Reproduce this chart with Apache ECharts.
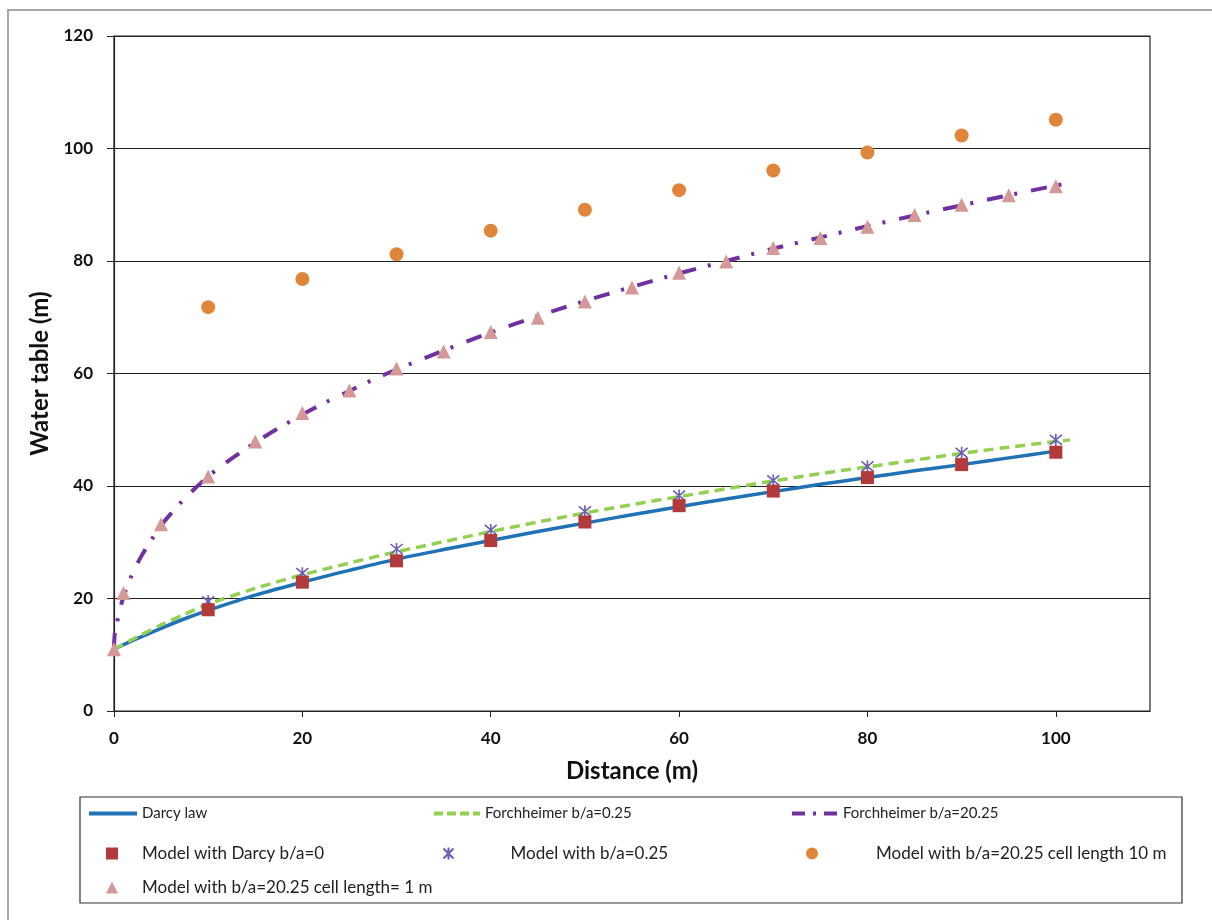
<!DOCTYPE html>
<html>
<head>
<meta charset="utf-8">
<script src="https://cdn.jsdelivr.net/npm/echarts@6/dist/echarts.min.js"></script>
<style>
  html, body { margin: 0; padding: 0; background: #fff; }
  #chart { width: 1212px; height: 920px; }
</style>
</head>
<body>
<div id="chart"></div>
<script>
// x tick labels shown on the distance axis
const xTicks = [0, 20, 40, 60, 80, 100];

// analytic curves, [distance, water table]
const darcyLaw = [
  [0, 11], [2.5, 12.9], [5, 14.7], [7.5, 16.4], [10, 17.9], [15, 20.6], [20, 22.9],
  [25, 25], [30, 27], [35, 28.7], [40, 30.3], [45, 31.9], [50, 33.4], [55, 34.9],
  [60, 36.3], [65, 37.7], [70, 39], [75, 40.3], [80, 41.5], [85, 42.7], [90, 43.8],
  [95, 45], [100, 46.2]
];
const forch025 = [
  [0, 11], [2.5, 13.2], [5, 15.3], [7.5, 17.2], [10, 19], [15, 21.8], [20, 24.2],
  [25, 26.3], [30, 28.3], [35, 30.1], [40, 31.9], [45, 33.6], [50, 35.2], [55, 36.7],
  [60, 38.1], [65, 39.5], [70, 40.9], [75, 42.2], [80, 43.4], [85, 44.6], [90, 45.8],
  [95, 46.9], [100, 47.9], [101.5, 48.2]
];
const forch2025 = [
  [0, 11], [0.1, 14], [0.5, 17], [1, 20.3], [2, 24.6], [3, 27.8], [4, 30.5], [5, 33],
  [6, 35], [7, 36.9], [8, 38.6], [9, 40.2], [10, 41.7], [12, 44.3], [14, 46.6],
  [16, 48.8], [18, 50.8], [20, 52.7], [22.5, 54.9], [25, 56.9], [27.5, 58.9], [30, 60.7],
  [35, 64.1], [40, 67.3], [45, 70.2], [50, 72.9], [55, 75.4], [60, 77.8], [65, 80],
  [70, 82.2], [75, 84.2], [80, 86.2], [85, 88.1], [90, 89.9], [95, 91.7], [100, 93.4],
  [102, 94]
];

// model results
const modelX = [10, 20, 30, 40, 50, 60, 70, 80, 90, 100];
const modelDarcy = [18, 22.9, 26.7, 30.3, 33.6, 36.5, 39.1, 41.5, 43.8, 46];
const model025 = [19.5, 24.5, 28.8, 32.2, 35.5, 38.3, 41, 43.5, 45.9, 48.2];
const model10m = [71.8, 76.8, 81.2, 85.4, 89.1, 92.6, 96.1, 99.3, 102.3, 105.1];
const cell1mX = [0, 1, 5, 10, 15, 20, 25, 30, 35, 40, 45, 50, 55, 60, 65, 70, 75, 80, 85, 90, 95, 100];
const model1m = [11, 21, 33.2, 41.7, 47.9, 53, 57, 60.9, 63.9, 67.4, 69.9, 72.8, 75.3, 77.9,
  79.9, 82.3, 84.1, 86.1, 88.2, 90, 91.7, 93.3];

const names = [
  "Darcy law",
  "Forchheimer b/a=0.25",
  "Forchheimer b/a=20.25",
  "Model with Darcy b/a=0",
  "Model with b/a=0.25",
  "Model with b/a=20.25 cell length 10 m",
  "Model with b/a=20.25 cell length= 1 m"
];

const FONT = "Lato";
const starPath = "path://M0,0L10,10M10,0L0,10M5,-1L5,11";

function pairs(xs, ys) {
  return xs.map((x, i) => [x, ys[i]]);
}

function legendAt(name, left, top, w, h, pad, size, dash) {
  const lg = {
    data: [name],
    left: left,
    top: top,
    itemWidth: w,
    itemHeight: h,
    padding: 0,
    selectedMode: false,
    textStyle: {
      fontFamily: FONT,
      fontSize: size,
      color: "#222",
      padding: [0, 0, 0, pad]
    }
  };
  if (dash) {
    // line entries show only the stroke, no marker
    lg.itemStyle = { color: "transparent", borderWidth: 0, opacity: 0 };
    lg.lineStyle = { width: 4, type: dash, cap: "butt" };
  }
  return lg;
}

const myChart = echarts.init(document.getElementById("chart"));

const option = {
  animation: false,
  backgroundColor: "#fff",
  textStyle: { fontFamily: FONT },
  graphic: [
    {
      type: "rect",
      shape: { x: 8, y: 10, width: 1300, height: 1000 },
      style: { fill: "none", stroke: "#a8a8a8", lineWidth: 2 },
      silent: true
    },
    {
      type: "rect",
      shape: { x: 80, y: 797, width: 1102, height: 106 },
      style: { fill: "none", stroke: "#333", lineWidth: 1.2 },
      silent: true
    }
  ],
  legend: [
    legendAt(names[0], 87, 806, 48, 14, 0, 15, "solid"),
    legendAt(names[1], 432, 806, 46, 14, 0, 15, [9, 4]),
    legendAt(names[2], 790, 806, 46, 14, 0, 15, [13, 8, 3, 8]),
    legendAt(names[3], 106, 845, 12, 12, 19, 17, null),
    legendAt(names[4], 441, 845, 12, 12, 51, 17, null),
    legendAt(names[5], 806, 845, 12, 12, 53, 17, null),
    legendAt(names[6], 106, 879, 12, 12, 19, 17, null)
  ],
  grid: {
    left: 114,
    right: 62,
    top: 36,
    bottom: 209,
    show: true,
    borderColor: "#222",
    borderWidth: 1.2
  },
  xAxis: {
    type: "value",
    min: 0,
    max: 110,
    interval: 20,
    name: "Distance (m)",
    nameLocation: "middle",
    nameGap: 48,
    nameTextStyle: { fontFamily: FONT, fontSize: 24, fontWeight: "bold", color: "#111" },
    axisLine: { lineStyle: { color: "#222", width: 1.2 } },
    axisTick: { show: true, length: 6, lineStyle: { color: "#222" }, customValues: xTicks },
    axisLabel: {
      customValues: xTicks,
      margin: 19,
      fontFamily: FONT,
      fontSize: 17,
      fontWeight: "bold",
      color: "#111"
    },
    splitLine: { show: false }
  },
  yAxis: {
    type: "value",
    min: 0,
    max: 120,
    interval: 20,
    name: "Water table (m)",
    nameLocation: "middle",
    nameGap: 60,
    nameTextStyle: { fontFamily: FONT, fontSize: 24, fontWeight: "bold", color: "#111" },
    axisLine: { show: true, lineStyle: { color: "#222", width: 1.2 } },
    axisTick: { show: true, length: 7, lineStyle: { color: "#222" } },
    axisLabel: {
      margin: 21,
      fontFamily: FONT,
      fontSize: 17,
      fontWeight: "bold",
      color: "#111"
    },
    splitLine: { show: true, lineStyle: { color: "#222", width: 1.2 } }
  },
  series: [
    {
      name: names[0],
      type: "line",
      data: darcyLaw,
      symbol: "none",
      smooth: 0.3,
      color: "#1f72b5",
      lineStyle: { color: "#1f72b5", width: 3.5 },
      z: 2
    },
    {
      name: names[1],
      type: "line",
      data: forch025,
      symbol: "none",
      smooth: 0.3,
      color: "#92d050",
      lineStyle: { color: "#92d050", width: 3.5, type: [10, 6] },
      z: 2
    },
    {
      name: names[2],
      type: "line",
      data: forch2025,
      symbol: "none",
      smooth: 0.3,
      color: "#7030a0",
      lineStyle: { color: "#7030a0", width: 4, type: [16, 12, 3, 14] },
      z: 2
    },
    {
      name: names[3],
      type: "scatter",
      data: pairs(modelX, modelDarcy),
      symbol: "rect",
      symbolSize: 13,
      itemStyle: { color: "#b23a3a", opacity: 1 },
      z: 4
    },
    {
      name: names[4],
      type: "scatter",
      data: pairs(modelX, model025),
      symbol: starPath,
      symbolSize: 12,
      itemStyle: { color: "none", borderColor: "#6a5bb5", borderWidth: 1.6, opacity: 1 },
      z: 3
    },
    {
      name: names[5],
      type: "scatter",
      data: pairs(modelX, model10m),
      symbol: "circle",
      symbolSize: 14,
      itemStyle: { color: "#e0863a", opacity: 1 },
      z: 4
    },
    {
      name: names[6],
      type: "scatter",
      data: pairs(cell1mX, model1m),
      symbol: "triangle",
      symbolSize: 14,
      itemStyle: { color: "#d49896", opacity: 1 },
      z: 5
    }
  ]
};

myChart.setOption(option);
</script>
</body>
</html>
